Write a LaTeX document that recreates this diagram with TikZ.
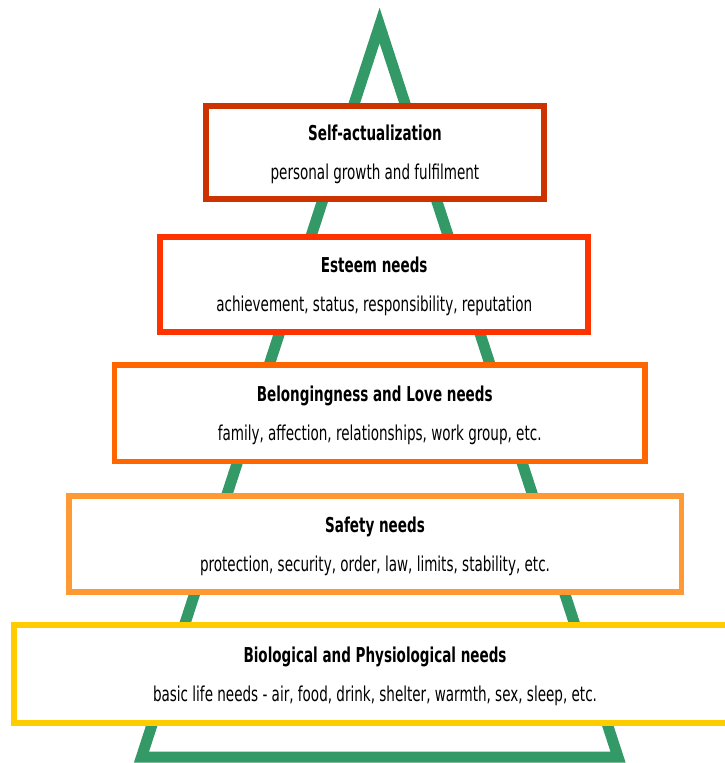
\documentclass[tikz,border=0pt]{standalone}
\usepackage{fontspec}
\setmainfont{DejaVu Sans}[FakeStretch=0.66]
\usetikzlibrary{calc}
\definecolor{tri}{HTML}{339966}
\definecolor{c1}{HTML}{CC3300}
\definecolor{c2}{HTML}{FF3300}
\definecolor{c3}{HTML}{FF6600}
\definecolor{c4}{HTML}{FF9933}
\definecolor{c5}{HTML}{FFCC00}
\tikzset{
  levelbox/.style={draw=#1, line width=5.5pt, fill=white, rectangle, inner sep=0pt},
  ttl/.style={font=\bfseries\fontsize{20.5}{22}\selectfont, anchor=base, inner sep=0pt},
  sub/.style={font=\fontsize{20.5}{22}\selectfont, anchor=base, inner sep=0pt}
}
\begin{document}
\begin{tikzpicture}[x=1pt,y=-1pt]
\useasboundingbox (0,0) rectangle (725,763);
\clip (0,0) rectangle (725,763);
\coordinate (apex) at (379.6,25.5);
\coordinate (bl) at (141.5,757);
\coordinate (br) at (618,757);
\draw[tri, line width=11pt, line join=miter] (apex) -- (br) -- (bl) -- cycle;

\node[levelbox=c1, minimum width=338pt, minimum height=93pt] (b1) at (374.9,152.5) {};
\node[levelbox=c2, minimum width=428pt, minimum height=95pt] (b2) at (374.2,284.7) {};
\node[levelbox=c3, minimum width=530.5pt, minimum height=96.5pt] (b3) at (379.7,413.3) {};
\node[levelbox=c4, minimum width=612.5pt, minimum height=96pt] (b4) at (375,544.2) {};
\node[levelbox=c5, minimum width=722.5pt, minimum height=98pt] (b5) at (375,674.2) {};

\node[ttl] (t1) at ($(b1.center)+(0,-12)$) {Self-actualization};
\node[sub] (s1) at ($(b1.center)+(0,27)$) {personal growth and fulfilment};
\node[ttl] (t2) at ($(b2.center)+(0,-12)$) {Esteem needs};
\node[sub] (s2) at ($(b2.center)+(0,27)$) {achievement, status, responsibility, reputation};
\node[ttl] (t3) at ($(b3.center)+(-5,-12)$) {Belongingness and Love needs};
\node[sub] (s3) at ($(b3.center)+(0,27)$) {family, affection, relationships, work group, etc.};
\node[ttl] (t4) at ($(b4.center)+(0,-12)$) {Safety needs};
\node[sub] (s4) at ($(b4.center)+(0,27)$) {protection, security, order, law, limits, stability, etc.};
\node[ttl] (t5) at ($(b5.center)+(0,-12)$) {Biological and Physiological needs};
\node[sub] (s5) at ($(b5.center)+(0,27)$) {basic life needs - air, food, drink, shelter, warmth, sex, sleep, etc.};
\end{tikzpicture}
\end{document}
